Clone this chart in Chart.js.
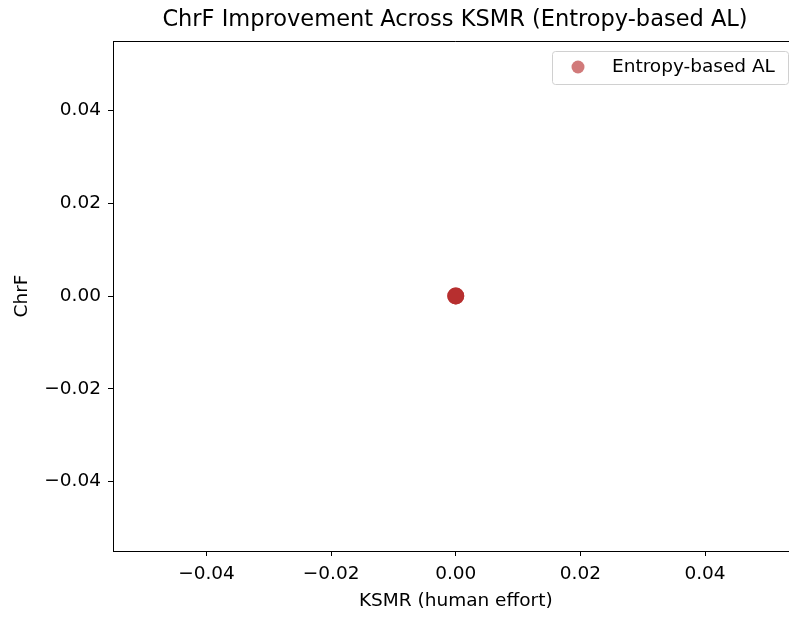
<!DOCTYPE html>
<html>
<head>
<meta charset="utf-8">
<script src="https://cdn.jsdelivr.net/npm/chart.js@4"></script>
<style>
  html, body { margin: 0; padding: 0; overflow: hidden; background: #fff; }
  canvas { display: block; }
</style>
</head>
<body>
<canvas id="scatterChart" width="807" height="617"></canvas>
<script>
"use strict"

// data: every run sits at the origin
const ksmr = [0, 0, 0];
const chrf = [0, 0, 0];
const xTicks = [-0.04, -0.02, 0, 0.02, 0.04];
const yTicks = [-0.04, -0.02, 0, 0.02, 0.04];
const seriesName = 'Entropy-based AL';
const chartTitle = 'ChrF Improvement Across KSMR (Entropy-based AL)';

const FONT = "'DejaVu Sans', sans-serif";
const RED = 'rgba(178, 34, 34, 0.6)';

function fmt(v) {
  const s = Math.abs(v).toFixed(2);
  return v < 0 ? '\u2212' + s : s;
}

const framePlugin = {
  id: 'frame',
  afterDraw(chart) {
    const { ctx, chartArea: a } = chart;
    ctx.save();
    // top and right spines
    ctx.strokeStyle = '#000';
    ctx.lineWidth = 1;
    ctx.beginPath();
    ctx.moveTo(a.left, a.top + 0.5);
    ctx.lineTo(a.right, a.top + 0.5);
    ctx.lineTo(a.right - 0.5, a.bottom);
    ctx.stroke();

    // title
    ctx.fillStyle = '#000';
    ctx.font = '22.5px ' + FONT;
    ctx.textAlign = 'center';
    ctx.textBaseline = 'alphabetic';
    ctx.fillText(chartTitle, 455, 26);

    // legend box
    const bx = 552, by = 51, bw = 236, bh = 33;
    ctx.fillStyle = 'rgba(255,255,255,0.8)';
    ctx.strokeStyle = '#d0d0d0';
    ctx.beginPath();
    ctx.roundRect(bx + 0.5, by + 0.5, bw, bh, 3);
    ctx.fill();
    ctx.stroke();
    ctx.fillStyle = RED;
    ctx.beginPath();
    ctx.arc(578, 67, 6.5, 0, Math.PI * 2);
    ctx.fill();
    ctx.fillStyle = '#000';
    ctx.font = '18.5px ' + FONT;
    ctx.textAlign = 'left';
    ctx.textBaseline = 'middle';
    ctx.fillText(seriesName, 612, 67);
    ctx.restore();
  }
};

document.addEventListener("DOMContentLoaded", () => {
  drawScatter();
});

function drawScatter() {
  const options = {
    type: 'scatter',
    data: {
      datasets: [
        {
          label: seriesName,
          data: ksmr.map((x, i) => ({ x: x, y: chrf[i] })),
          backgroundColor: RED,
          borderWidth: 0,
          pointRadius: 8.5,
          pointHoverRadius: 8.5
        }
      ]
    },
    options: {
      responsive: false,
      animation: false,
      layout: { padding: { top: 41, right: 2, left: 0, bottom: 0 } },
      plugins: {
        legend: { display: false },
        tooltip: { enabled: false }
      },
      scales: {
        x: {
          type: 'linear',
          min: -0.055,
          max: 0.055,
          afterBuildTicks: (s) => { s.ticks = xTicks.map(v => ({ value: v })); },
          afterFit: (s) => { s.height = 66; },
          grid: { drawOnChartArea: false, drawTicks: true, tickLength: 5, color: '#000' },
          border: { color: '#000', width: 1 },
          ticks: {
            color: '#000',
            font: { family: FONT, size: 18.5 },
            padding: 7,
            maxRotation: 0,
            callback: (v) => fmt(v)
          },
          title: {
            display: true,
            text: 'KSMR (human effort)',
            color: '#000',
            font: { family: FONT, size: 18.5 },
            padding: { top: 0, bottom: 5 }
          }
        },
        y: {
          type: 'linear',
          min: -0.055,
          max: 0.055,
          afterBuildTicks: (s) => { s.ticks = yTicks.map(v => ({ value: v })); },
          afterFit: (s) => { s.width = 113; },
          grid: { drawOnChartArea: false, drawTicks: true, tickLength: 5, color: '#000' },
          border: { color: '#000', width: 1 },
          ticks: {
            color: '#000',
            font: { family: FONT, size: 18.5 },
            padding: 7,
            callback: (v) => fmt(v)
          },
          title: {
            display: true,
            text: 'ChrF',
            color: '#000',
            font: { family: FONT, size: 18.5 },
            padding: { top: 11, bottom: 0 }
          }
        }
      }
    },
    plugins: [framePlugin]
  };
  const ctx = document.getElementById('scatterChart');
  new Chart(ctx, options);
}
</script>
</body>
</html>
